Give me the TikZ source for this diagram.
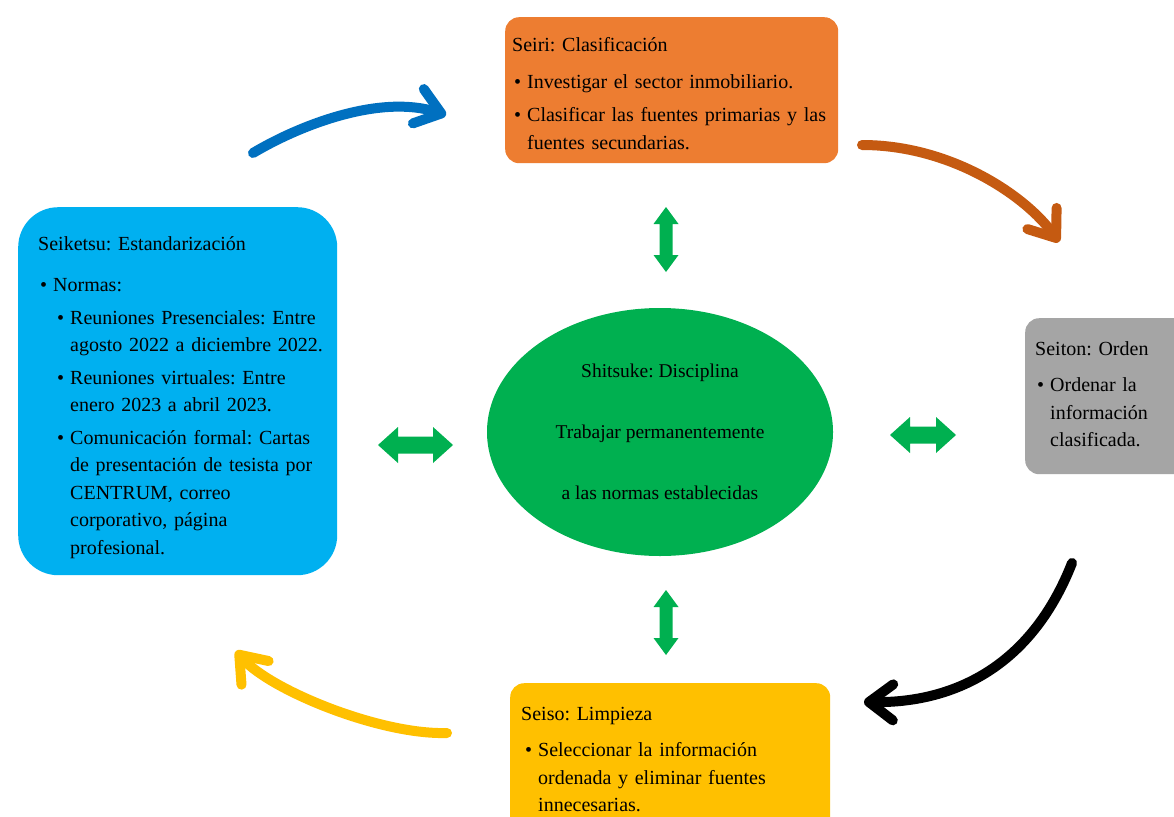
\documentclass[tikz,border=0pt]{standalone}
\usepackage{fontspec}
\setmainfont{Liberation Serif}
\usetikzlibrary{arrows.meta,shapes.geometric,calc}
\frenchspacing

\definecolor{cBlue}{RGB}{0,112,192}
\definecolor{cSky}{RGB}{0,176,240}
\definecolor{cOrange}{RGB}{237,125,49}
\definecolor{cRust}{RGB}{197,90,17}
\definecolor{cGray}{RGB}{165,165,165}
\definecolor{cGold}{RGB}{255,192,0}
\definecolor{cGreen}{RGB}{0,176,80}

% heading line of a box, followed by a small gap
\newcommand\ttl[2][9pt]{#2\par\vspace{#1}}
% bullet item: [gap after] {text indent} {text}
\newcommand\itm[3][6pt]{{\leftskip=#2\noindent\llap{\makebox[13pt][l]{\textbullet}}#3\par}\vspace{#1}}
% filled double-headed block arrow between two named coordinates
% #1,#2 ends, #3 half shaft, #4 half head, #5 head length
\newcommand\dblarrow[5]{%
  \coordinate (#1-h) at ($(#1)!#5!(#2)$);
  \coordinate (#2-h) at ($(#2)!#5!(#1)$);
  \fill[cGreen] (#1) -- ($(#1-h)!#4!90:(#2)$) -- ($(#1-h)!#3!90:(#2)$)
    -- ($(#2-h)!#3!-90:(#1)$) -- ($(#2-h)!#4!-90:(#1)$) -- (#2)
    -- ($(#2-h)!#4!90:(#1)$) -- ($(#2-h)!#3!90:(#1)$)
    -- ($(#1-h)!#3!-90:(#2)$) -- ($(#1-h)!#4!-90:(#2)$) -- cycle;}

\begin{document}
\begin{tikzpicture}[x=1pt,y=-1pt,
  box/.style={rounded corners=14pt, inner sep=0pt, anchor=north west, draw=none},
  txt/.style={anchor=base west, inner sep=0pt, text width=340pt, align=left,
    font=\fontsize{20}{27.5}\selectfont},
  cycarrow/.style={line width=10pt, line cap=round,
    -{Straight Barb[length=24pt,width=36pt,round]}}]

\useasboundingbox (0,0) rectangle (1174,816);
\fill[white] (0,0) rectangle (1174,816);
\clip (0,0) rectangle (1174,816);

% the five stages
\node[box, fill=cOrange, minimum width=333pt, minimum height=146pt] (seiri) at (505,17) {};
\node[box, fill=cSky, rounded corners=40pt, minimum width=319pt, minimum height=368pt] (seiketsu) at (18,207) {};
\node[box, fill=cGray, minimum width=180pt, minimum height=156pt] (seiton) at (1025,318) {};
\node[box, fill=cGold, minimum width=320pt, minimum height=160pt] (seiso) at (510,683) {};

\node[txt] (seiriT) at (512,52) {%
  \ttl{Seiri: Clasificación}
  \itm{15pt}{Investigar el sector inmobiliario.}
  \itm{15pt}{Clasificar las fuentes primarias y las\newline fuentes secundarias.}};

\node[txt] (seiketsuT) at (38,250) {%
  \ttl[14pt]{Seiketsu: Estandarización}
  \itm[5pt]{15pt}{Normas:}
  \itm[5pt]{32pt}{Reuniones Presenciales: Entre\newline agosto 2022 a diciembre 2022.}
  \itm[5pt]{32pt}{Reuniones virtuales: Entre\newline enero 2023 a abril 2023.}
  \itm{32pt}{Comunicación formal: Cartas\newline de presentación de tesista por\newline CENTRUM, correo\newline corporativo, página\newline profesional.}};

\node[txt] (seitonT) at (1035,355) {%
  \ttl{Seiton: Orden}
  \itm{15pt}{Ordenar la\newline información\newline clasificada.}};

\node[txt] (seisoT) at (521,720) {%
  \ttl{Seiso: Limpieza}
  \itm{17pt}{Seleccionar la información\newline ordenada y eliminar fuentes\newline innecesarias.}};

% central stage
\node[ellipse, fill=cGreen, inner sep=0pt, minimum width=346pt, minimum height=248pt,
  align=center, font=\fontsize{19.5}{23}\selectfont] (shitsuke) at (660,432)
  {Shitsuke: Disciplina\\[38pt]Trabajar permanentemente\\[38pt]a las normas establecidas};

% two-way links between the centre and the stages
\coordinate (gT1) at (666,207);  \coordinate (gT2) at (666,272);
\coordinate (gB1) at (666,590);  \coordinate (gB2) at (666,655);
\coordinate (gL1) at (378,445);  \coordinate (gL2) at (453,445);
\coordinate (gR1) at (890,435);  \coordinate (gR2) at (956,435);
\dblarrow{gT1}{gT2}{6.5pt}{12.5pt}{17pt}
\dblarrow{gB1}{gB2}{6.5pt}{12.5pt}{17pt}
\dblarrow{gL1}{gL2}{8.5pt}{18pt}{20pt}
\dblarrow{gR1}{gR2}{8.5pt}{18pt}{20pt}

% cycle arrows
\coordinate (bS) at (253,153);   \coordinate (bE) at (446,115);
\coordinate (oS) at (862,145);   \coordinate (oE) at (1059,242);
\coordinate (kS) at (1072,563);  \coordinate (kE) at (864,702);
\coordinate (yS) at (447,733);   \coordinate (yE) at (236,651);
\draw[cycarrow, cBlue] (bS) .. controls (300,125) and (380,94) .. (bE);
\draw[cycarrow, cRust] (oS) .. controls (950,145) and (1025,195) .. (oE);
\draw[cycarrow, black] (kS) .. controls (1030,670) and (950,703) .. (kE);
\draw[cycarrow, cGold] (yS) .. controls (380,735) and (270,690) .. (yE);
\end{tikzpicture}
\end{document}
